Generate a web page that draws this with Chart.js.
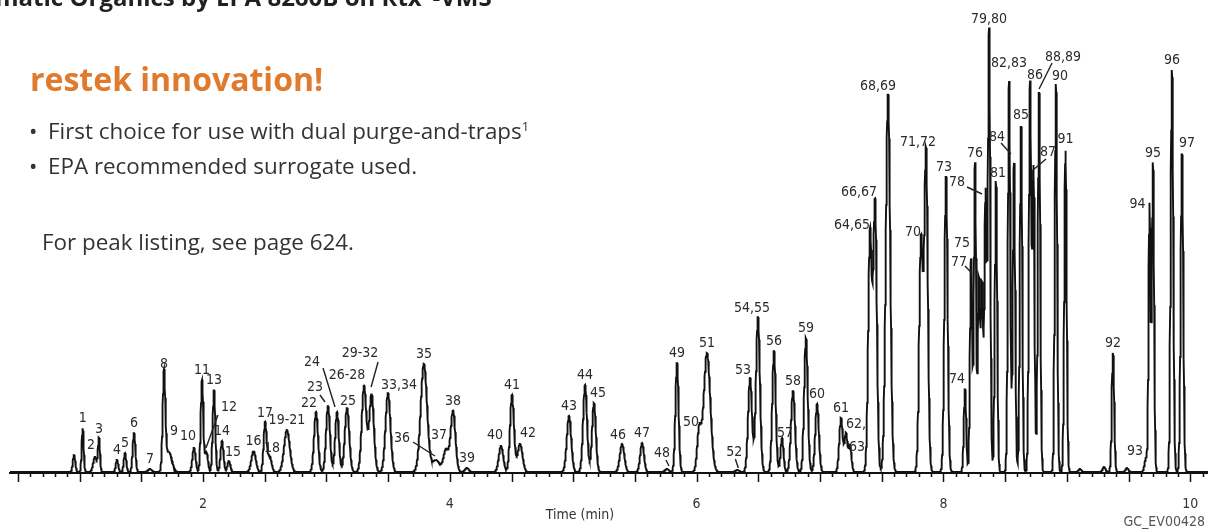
<!DOCTYPE html>
<html lang="en">
<head>
  <meta charset="UTF-8">
  <title>Volatile Organics by EPA 8260B on Rtx-VMS</title>
  <script src="https://cdn.jsdelivr.net/npm/chart.js"></script>
  <style>
    html, body {
      margin: 0;
      background: #fff;
      overflow: hidden;
    }
    .page {
      position: relative;
      width: 1208px;
      height: 530px;
      overflow: hidden;
      font-family: "Open Sans", sans-serif;
    }
    #chromCanvas {
      position: absolute;
      left: 0;
      top: 0;
    }
    .title {
      position: absolute;
      left: -5px;
      top: -20px;
      font-size: 24px;
      line-height: 24px;
      font-weight: bold;
      color: #231f20;
      white-space: nowrap;
    }
    .title sup { font-size: 13px; }
    .promo {
      position: absolute;
      left: 30px;
      top: 63px;
      font-size: 32px;
      line-height: 32px;
      font-weight: bold;
      color: #e07a2c;
      white-space: nowrap;
    }
    .point {
      position: absolute;
      left: 29px;
      font-size: 22.4px;
      line-height: 22px;
      color: #333;
      white-space: nowrap;
    }
    .point .dot {
      display: inline-block;
      width: 19px;
    }
    .point sup { font-size: 13px; }
    .note {
      position: absolute;
      left: 42px;
      top: 231px;
      font-size: 22.4px;
      line-height: 22px;
      color: #333;
      white-space: nowrap;
    }
    .code {
      position: absolute;
      right: 3px;
      top: 513px;
      font-family: "DejaVu Sans Condensed", "Liberation Sans Narrow", sans-serif;
      font-size: 14px;
      line-height: 16px;
      color: #555;
    }
  </style>
</head>
<body>

<div class="page">
  <canvas id="chromCanvas" width="1208" height="530"></canvas>
  <div class="title">matic Organics by EPA 8260B on Rtx<sup>®</sup>-VMS</div>
  <div class="promo">restek innovation!</div>
  <div class="point" style="top:115px"><span class="dot">•</span>First choice for use with dual purge-and-traps<sup>1</sup></div>
  <div class="point" style="top:155px"><span class="dot">•</span>EPA recommended surrogate used.</div>
  <div class="note">For peak listing, see page 624.</div>
  <div class="code">GC_EV00428</div>
</div>

<script>
  // peak table: label, retention time (min), height, peak sigma (min)
  const peakLabels = [
    '', '1', '2', '3', '4', '5', '6', '7', '8', '9',
    '10', '11', '12', '13', '14', '15', '16', '17', '18', '19-21',
    '22', '23', '24', '25', '26-28', '29-32', '33,34', '35', '36', '37',
    '38', '39', '40', '41', '42', '43', '44', '45', '46', '47',
    '48', '49', '50', '51', '52', '53', '54,55', '56', '57', '58',
    '59', '60', '61', '62,', '63', '64,65', '66,67', '68,69', '70', '71,72',
    '73', '74', '75', '76', '77', '', '78', '79,80', '81', '82,83',
    '84', '85', '86', '87', '88,89', '90', '91', '', '', '92',
    '', '93', '94', '95', '96', '97'
  ];
  const retentionTimes = [
    0.955, 1.025, 1.125, 1.157, 1.303, 1.368, 1.441, 1.570, 1.684, 1.724,
    1.927, 1.992, 2.028, 2.089, 2.154, 2.210, 2.410, 2.503, 2.539, 2.680,
    2.916, 3.013, 3.086, 3.167, 3.305, 3.366, 3.499, 3.790, 3.888, 3.969,
    4.026, 4.139, 4.415, 4.504, 4.569, 4.966, 5.096, 5.168, 5.396, 5.558,
    5.760, 5.841, 6.020, 6.084, 6.330, 6.433, 6.497, 6.627, 6.692, 6.781,
    6.886, 6.976, 7.170, 7.210, 7.243, 7.405, 7.446, 7.551, 7.818, 7.859,
    8.021, 8.175, 8.224, 8.256, 8.288, 8.313, 8.341, 8.370, 8.426, 8.532,
    8.572, 8.629, 8.702, 8.730, 8.775, 8.912, 8.989, 9.107, 9.302, 9.374,
    9.488, 9.642, 9.670, 9.698, 9.852, 9.933
  ];
  const peakHeights = [
    17, 44, 15, 33, 12, 19, 39, 3, 98, 20,
    24, 92, 20, 82, 31, 11, 21, 49, 16, 42,
    60, 66, 60, 64, 86, 78, 79, 108, 12, 22,
    61, 4, 26, 77, 28, 56, 87, 69, 28, 29,
    3, 109, 40, 119, 2, 94, 155, 121, 34, 81,
    134, 68, 54, 38, 26, 239, 269, 378, 231, 321,
    296, 83, 213, 309, 191, 185, 278, 443, 291, 391,
    309, 347, 389, 301, 381, 388, 323, 3, 5, 119,
    4, 14, 266, 309, 402, 319
  ];
  const peakSigmas = [
    0.010, 0.008, 0.015, 0.008, 0.010, 0.010, 0.011, 0.016, 0.011, 0.024,
    0.013, 0.0105, 0.012, 0.0105, 0.012, 0.012, 0.018, 0.012, 0.016, 0.023,
    0.016, 0.016, 0.015, 0.018, 0.0186, 0.0186, 0.020, 0.026, 0.032, 0.020,
    0.0195, 0.016, 0.018, 0.016, 0.020, 0.018, 0.016, 0.0154, 0.018, 0.0154,
    0.016, 0.013, 0.016, 0.027, 0.016, 0.016, 0.016, 0.014, 0.012, 0.016,
    0.0146, 0.0146, 0.014, 0.012, 0.012, 0.0146, 0.0146, 0.018, 0.0146, 0.0146,
    0.013, 0.0097, 0.009, 0.009, 0.009, 0.009, 0.009, 0.0097, 0.0097, 0.0097,
    0.0097, 0.0097, 0.0097, 0.009, 0.0097, 0.0097, 0.0097, 0.012, 0.012, 0.0097,
    0.012, 0.012, 0.008, 0.009, 0.0105, 0.0105
  ];

  // label placement relative to the peak apex, in pixels [dx, dy]
  const labelOffsets = {
    '2': [-4, -12], '9': [5, -21], '10': [-6, -12], '15': [4, -9], '18': [2.5, -8],
    '22': [-7, -9], '25': [1, -7], '26-28': [-17, -11], '33,34': [11, -8], '37': [-7, -15],
    '40': [-6, -11], '42': [8, -11], '45': [4, -10], '46': [-4, -9], '50': [-8, -10],
    '53': [-7, -8], '54,55': [-6, -9], '57': [3, -5], '62,': [10, -10], '63': [7, 1],
    '64,65': [-18, -8], '66,67': [-16, -11], '68,69': [-10, -8], '70': [-8, -9],
    '71,72': [-8, -9], '73': [-2, -9], '74': [-8, -10], '75': [-9, -16], '81': [2, -8],
    '82,83': [0, -18], '86': [5, -8], '90': [4, -8], '93': [-11, -7], '94': [-12, -2],
    '97': [5, -10],
    // labels joined to their peak by a short line
    '12': [22.5, -45], '23': [-13, -19], '24': [-25, -50], '29-32': [-11.5, -41],
    '36': [-34, -22], '48': [-5, -16], '52': [-3, -18], '77': [-20, -19],
    '78': [-28.5, -12], '84': [-17, -26], '87': [14.5, -19], '88,89': [24, -34]
  };
  const leaderLines = {
    '12': [[11.5, -37], [-0.5, -4]],
    '23': [[-8, -11], [-3, -4]],
    '24': [[-14, -44], [-2, -5]],
    '29-32': [[6.5, -32], [-0.5, -7]],
    '36': [[-23, -18], [-1, -4]],
    '48': [[-1, -9], [2, -3]],
    '52': [[-2, -11], [1, -2]],
    '77': [[-14, -15], [-7, -8]],
    '78': [[-18.5, -7], [-3.5, 0]],
    '84': [[-13, -20], [-3, -9]],
    '87': [[12.5, -12], [-0.5, -1]],
    '88,89': [[13, -28], [0, -2]]
  };

  const timeMin = 0.436;
  const timeMax = 10.144;
  const labelFont = '"DejaVu Sans Condensed", "Liberation Sans Narrow", sans-serif';

  // detector trace: sum of the gaussian peaks in the table
  function buildTrace() {
    const pts = [];
    const step = 0.002;
    for (let i = 0; ; i++) {
      const t = timeMin + i * step;
      if (t > timeMax) break;
      let v = 0;
      for (let k = 0; k < retentionTimes.length; k++) {
        const d = (t - retentionTimes[k]) / peakSigmas[k];
        if (d > -6 && d < 6) v += peakHeights[k] * Math.exp(-0.5 * d * d);
      }
      pts.push({ x: t, y: v });
    }
    return pts;
  }

  // tick marks, peak numbers and axis title
  const peakAnnotations = {
    id: 'peakAnnotations',
    afterDraw(chart) {
      const { ctx, scales: { x, y }, chartArea } = chart;
      ctx.save();

      // minor ticks every 0.1 min, longer every 0.5 min
      ctx.strokeStyle = '#111';
      ctx.lineWidth = 1.5;
      for (let i = 5; i <= 101; i++) {
        const px = Math.round(x.getPixelForValue(i / 10)) + 0.5;
        const len = i % 5 === 0 ? 9 : 4;
        ctx.beginPath();
        ctx.moveTo(px, chartArea.bottom);
        ctx.lineTo(px, chartArea.bottom + len);
        ctx.stroke();
      }

      ctx.font = '14px ' + labelFont;
      ctx.fillStyle = '#2b2b2b';
      ctx.textAlign = 'center';
      ctx.textBaseline = 'middle';
      ctx.lineWidth = 1.4;
      ctx.strokeStyle = '#222';

      peakLabels.forEach((label, k) => {
        if (!label) return;
        const ax = x.getPixelForValue(retentionTimes[k]);
        const ay = y.getPixelForValue(peakHeights[k]);
        const off = labelOffsets[label] || [0, -10];
        ctx.fillText(label, ax + off[0], ay + off[1]);
        const lead = leaderLines[label];
        if (lead) {
          ctx.beginPath();
          ctx.moveTo(ax + lead[0][0], ay + lead[0][1]);
          ctx.lineTo(ax + lead[1][0], ay + lead[1][1]);
          ctx.stroke();
        }
      });

      ctx.fillStyle = '#333';
      ctx.fillText('Time (min)', 580, 515);
      ctx.restore();
    }
  };

  document.addEventListener('DOMContentLoaded', () => {
    const ctx = document.getElementById('chromCanvas').getContext('2d');
    new Chart(ctx, {
      type: 'line',
      data: {
        datasets: [{
          data: buildTrace(),
          borderColor: '#111',
          borderWidth: 1.9,
          pointRadius: 0,
          tension: 0,
          fill: false
        }]
      },
      options: {
        animation: false,
        responsive: false,
        parsing: false,
        normalized: true,
        layout: { autoPadding: false, padding: { left: 10, right: 0, top: 0, bottom: 0 } },
        plugins: {
          legend: { display: false },
          tooltip: { enabled: false }
        },
        scales: {
          x: {
            type: 'linear',
            min: timeMin,
            max: timeMax,
            grid: { display: false },
            border: { display: true, color: '#111', width: 2 },
            // axis runs to the right edge; no room kept for the last label
            afterFit: (scale) => {
              scale.height = 57;
              scale.paddingLeft = 0;
              scale.paddingRight = 0;
            },
            ticks: {
              stepSize: 1,
              includeBounds: false,
              autoSkip: false,
              maxRotation: 0,
              padding: 15,
              color: '#333',
              font: { family: labelFont, size: 14 },
              callback: (v) => {
                const r = Math.round(v);
                return (Math.abs(v - r) < 1e-6 && r > 0 && r % 2 === 0) ? String(r) : '';
              }
            }
          },
          y: { display: false, min: -1, max: 472 }
        }
      },
      plugins: [peakAnnotations]
    });
  });
</script>

</body>
</html>
